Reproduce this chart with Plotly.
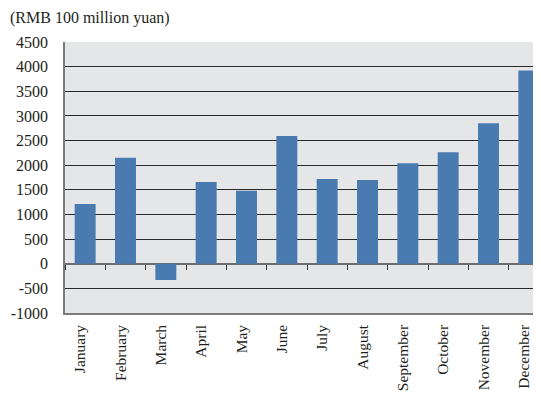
import plotly.graph_objects as go

months = ["January", "February", "March", "April", "May", "June", "July",
          "August", "September", "October", "November", "December"]
values = [1210, 2150, -330, 1660, 1480, 2590, 1720, 1700, 2040, 2260, 2850, 3920]
y_ticks = list(range(-1000, 4501, 500))
y_tick_text = [str(v) for v in y_ticks]

font = dict(family="Liberation Serif, Times New Roman, serif", size=16, color="#231f20")
xfont = dict(family="Liberation Serif, Times New Roman, serif", size=15.5, color="#231f20")

fig = go.Figure()
fig.add_trace(go.Bar(x=months, y=values, marker=dict(color="#4a7bb0", line=dict(width=0)),
                     width=0.52, hoverinfo="x+y"))
fig.add_trace(go.Scatter(x=months, y=values, xaxis="x2", mode="markers",
                         marker=dict(opacity=0), hoverinfo="skip", showlegend=False))

y_min, y_max = -1000, 4500
fig.update_layout(
    width=541, height=395, autosize=False,
    margin=dict(l=57, r=0, t=34, b=90, autoexpand=False),
    paper_bgcolor="white", plot_bgcolor="#e5e6e8",
    showlegend=False, bargap=0.48,
    font=font,
    xaxis=dict(type="category", range=[-0.5, 11.5], showgrid=False, ticks="",
               tickangle=-90, showline=True, linecolor="#7a7a7a", linewidth=1.5,
               mirror=False, tickfont=xfont, ticklabelstandoff=4, ticklabelshift=-5,
               automargin=False),
    xaxis2=dict(type="category", overlaying="x", matches="x", anchor="free",
                position=(0 - y_min) / (y_max - y_min), side="bottom",
                ticks="outside", ticklen=5, tickwidth=1, tickcolor="#333",
                tickson="boundaries", showticklabels=False, showgrid=False, showline=False,
                automargin=False),
    yaxis=dict(range=[y_min, y_max], tickvals=y_ticks, ticktext=y_tick_text,
               showgrid=True, gridcolor="#2a2a2a",
               gridwidth=1, zeroline=True, zerolinecolor="#6e6e6e", zerolinewidth=1.5,
               showline=True, linecolor="#7a7a7a", linewidth=1.5, ticks="",
               tickfont=font, ticklabelstandoff=12, automargin=False),
    annotations=[dict(text="(RMB 100 million yuan)", xref="paper", yref="paper",
                      x=0, y=1, yshift=34, xshift=-56, xanchor="left", yanchor="top",
                      borderpad=0, showarrow=False, font=font)],
)

fig.write_html("out.html")
